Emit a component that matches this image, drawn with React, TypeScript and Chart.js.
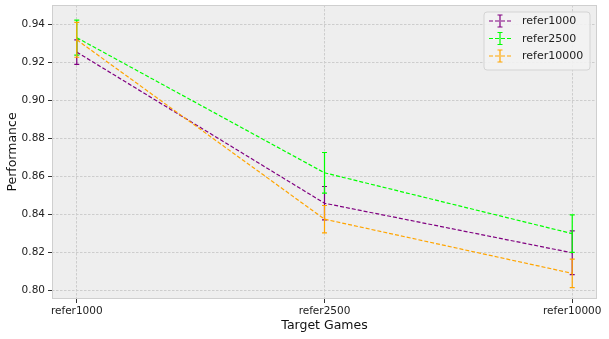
import React, { useEffect, useRef } from "react";
import { Chart, registerables } from "chart.js";

Chart.register(...registerables);

const categories = ["refer1000", "refer2500", "refer10000"];
const seriesNames = ["refer1000", "refer2500", "refer10000"];
const seriesColors = ["#800080", "#00ff00", "#ffa500"];
const refer1000 = [0.9252, 0.8457, 0.8196];
const refer1000Err = [0.0064, 0.0088, 0.0115];
const refer2500 = [0.9328, 0.8617, 0.8297];
const refer2500Err = [0.0092, 0.0107, 0.0099];
const refer10000 = [0.9317, 0.8373, 0.8088];
const refer10000Err = [0.0092, 0.0072, 0.0075];
const yTicks = [0.8, 0.82, 0.84, 0.86, 0.88, 0.9, 0.92, 0.94];

const means = [refer1000, refer2500, refer10000];
const errs = [refer1000Err, refer2500Err, refer10000Err];

const FONT = "'DejaVu Sans', sans-serif";

const bgPlugin = {
  id: "bg",
  beforeDraw(chart: any) {
    const { ctx, chartArea: a } = chart;
    ctx.save();
    ctx.fillStyle = "#ffffff";
    ctx.fillRect(0, 0, chart.width, chart.height);
    ctx.fillStyle = "#eeeeee";
    ctx.fillRect(a.left, a.top, a.right - a.left, a.bottom - a.top);
    ctx.restore();
  },
  beforeDatasetsDraw(chart: any) {
    const { ctx, chartArea: a } = chart;
    ctx.save();
    ctx.strokeStyle = "#cfcfcf";
    ctx.lineWidth = 1;
    ctx.strokeRect(a.left + 0.5, a.top + 0.5, a.right - a.left - 1, a.bottom - a.top - 1);
    ctx.restore();
  },
};

function drawErr(ctx: any, x: number, y1: number, y2: number, color: string, cap: number) {
  ctx.strokeStyle = color;
  ctx.lineWidth = 1.2;
  ctx.setLineDash([]);
  ctx.beginPath();
  ctx.moveTo(x, y1);
  ctx.lineTo(x, y2);
  ctx.moveTo(x - cap, y1);
  ctx.lineTo(x + cap, y1);
  ctx.moveTo(x - cap, y2);
  ctx.lineTo(x + cap, y2);
  ctx.stroke();
}

const errPlugin = {
  id: "errbars",
  afterDatasetDraw(chart: any, args: any) {
    const i = args.index;
    const { ctx } = chart;
    const xs = chart.scales.x;
    const ys = chart.scales.y;
    ctx.save();
    means[i].forEach((m: number, j: number) => {
      const x = xs.getPixelForValue(j);
      drawErr(ctx, x, ys.getPixelForValue(m + errs[i][j]), ys.getPixelForValue(m - errs[i][j]), seriesColors[i], 2.5);
    });
    ctx.restore();
  },
};

const legendPlugin = {
  id: "customLegend",
  afterDraw(chart: any) {
    const { ctx, chartArea: a } = chart;
    const right = a.right - 7;
    const top = a.top + 7;
    const w = 106;
    const h = 58;
    const left = right - w;
    ctx.save();
    ctx.beginPath();
    const r = 3;
    ctx.moveTo(left + r, top);
    ctx.lineTo(left + w - r, top);
    ctx.quadraticCurveTo(left + w, top, left + w, top + r);
    ctx.lineTo(left + w, top + h - r);
    ctx.quadraticCurveTo(left + w, top + h, left + w - r, top + h);
    ctx.lineTo(left + r, top + h);
    ctx.quadraticCurveTo(left, top + h, left, top + h - r);
    ctx.lineTo(left, top + r);
    ctx.quadraticCurveTo(left, top, left + r, top);
    ctx.closePath();
    ctx.fillStyle = "rgba(242,242,242,0.9)";
    ctx.fill();
    ctx.strokeStyle = "#d4d4d4";
    ctx.lineWidth = 1;
    ctx.stroke();
    seriesNames.forEach((name, i) => {
      const y = top + 9 + i * 17.5;
      ctx.strokeStyle = seriesColors[i];
      ctx.lineWidth = 1.2;
      ctx.setLineDash([4, 2]);
      ctx.beginPath();
      ctx.moveTo(left + 5, y);
      ctx.lineTo(left + 27, y);
      ctx.stroke();
      drawErr(ctx, left + 16, y - 6, y + 6, seriesColors[i], 2.5);
      ctx.fillStyle = "#222222";
      ctx.font = "11px " + FONT;
      ctx.textBaseline = "middle";
      ctx.textAlign = "left";
      ctx.fillText(name, left + 38, y + 0.5);
    });
    ctx.restore();
  },
};

export default function App() {
  const ref = useRef<HTMLCanvasElement | null>(null);
  useEffect(() => {
    document.body.style.margin = "0";
    const datasets = means.map((m, i) => ({
      label: seriesNames[i],
      data: m.map((v, j) => ({ x: j, y: v })),
      borderColor: seriesColors[i],
      backgroundColor: seriesColors[i],
      borderWidth: 1.2,
      borderDash: [4, 2],
      pointRadius: 0,
      tension: 0,
      order: 3 - i,
    }));
    const gridOpts: any = {
      color: "#cdcdcd",
      lineWidth: 1,
      tickLength: 4,
      tickColor: "#333333",
      tickWidth: 1,
      tickBorderDash: [],
    };
    const chart = new Chart(ref.current as HTMLCanvasElement, {
      type: "line",
      data: { datasets },
      plugins: [bgPlugin, errPlugin, legendPlugin],
      options: {
        animation: false,
        responsive: false,
        maintainAspectRatio: false,
        layout: { padding: { top: 5, right: 12, left: 0, bottom: 0 } },
        plugins: { legend: { display: false }, tooltip: { enabled: false } },
        scales: {
          x: {
            type: "linear",
            min: -0.1,
            max: 2.1,
            afterBuildTicks(scale: any) {
              scale.ticks = categories.map((_, i) => ({ value: i }));
            },
            afterFit(scale: any) {
              scale.height = 40;
            },
            ticks: {
              callback: (v: any) => categories[v as number],
              font: { family: FONT, size: 10.5 },
              color: "#222222",
              padding: 2,
              maxRotation: 0,
              autoSkip: false,
            },
            grid: gridOpts,
            border: { display: false, dash: [2.5, 1.5] },
            title: {
              display: true,
              text: "Target Games",
              font: { family: FONT, size: 12.5 },
              color: "#111111",
              padding: { top: 0, bottom: 6 },
            },
          },
          y: {
            type: "linear",
            min: 0.7953,
            max: 0.95,
            afterBuildTicks(scale: any) {
              scale.ticks = yTicks.map((v) => ({ value: v }));
            },
            afterFit(scale: any) {
              scale.width = 52;
              scale.paddingTop = 0;
              scale.paddingBottom = 0;
            },
            ticks: {
              callback: (v: any) => Number(v).toFixed(2),
              font: { family: FONT, size: 10.5 },
              color: "#222222",
              padding: 3,
            },
            grid: gridOpts,
            border: { display: false, dash: [2.5, 1.5] },
            title: {
              display: true,
              text: "Performance",
              font: { family: FONT, size: 12.5 },
              color: "#111111",
              padding: { top: 5, bottom: 0 },
            },
          },
        },
      } as any,
    });
    return () => chart.destroy();
  }, []);
  return (
    <div style={{ position: "fixed", left: 0, top: 0, width: 609, height: 339 }}>
      <canvas ref={ref} width={609} height={339} style={{ width: 609, height: 339 }} />
    </div>
  );
}
